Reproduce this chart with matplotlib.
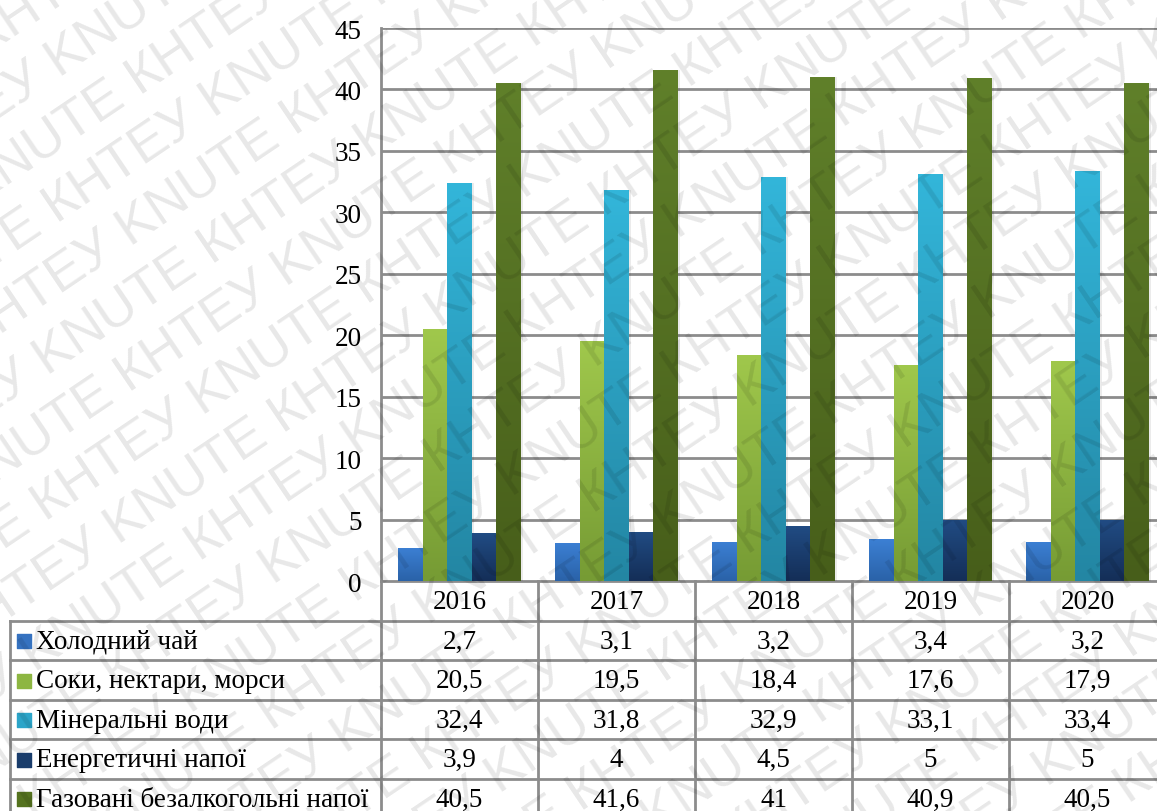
import numpy as np
import matplotlib
matplotlib.use("Agg")
import matplotlib.pyplot as plt
from matplotlib.colors import LinearSegmentedColormap

years = ["2016", "2017", "2018", "2019", "2020"]
series = ["Холодний чай", "Соки, нектари, морси", "Мінеральні води",
          "Енергетичні напої", "Газовані безалкогольні напої"]
cold_tea = [2.7, 3.1, 3.2, 3.4, 3.2]
juices = [20.5, 19.5, 18.4, 17.6, 17.9]
mineral = [32.4, 31.8, 32.9, 33.1, 33.4]
energy = [3.9, 4.0, 4.5, 5.0, 5.0]
soda = [40.5, 41.6, 41.0, 40.9, 40.5]
values = [cold_tea, juices, mineral, energy, soda]

# (top, bottom) shades for the vertical gradient of each series
shades = [("#3c80d4", "#2a62a8"),
          ("#a0c84c", "#769b34"),
          ("#33b6da", "#2386a3"),
          ("#214c84", "#142e57"),
          ("#60802a", "#475e1a")]
legend_colors = ["#3572c0", "#8db642", "#2ca5c9", "#1a3d6c", "#55731f"]

plt.rcParams["font.family"] = ["Liberation Serif", "DejaVu Serif"]
FS = 19.5
W, H = 1157, 812
fig = plt.figure(figsize=(W / 100, H / 100), dpi=100)

# column pixel geometry: left label column then 157 px per year
x0, col = 381, 157
ax_bottom, ax_top = 582, 29
ax = fig.add_axes([x0 / W, (H - ax_bottom) / H, 5 * col / W, (ax_bottom - ax_top) / H])
ax.set_ylim(0, 45)
ax.set_yticks(range(0, 46, 5))
ax.set_xticks([])
ax.tick_params(axis="y", length=0, labelsize=FS, pad=14)
ax.yaxis.grid(True, color="#8c8c8c", linewidth=2)
ax.set_axisbelow(True)
for s in ["top", "right", "bottom"]:
    ax.spines[s].set_visible(False)
ax.spines["left"].set_color("#8c8c8c")
ax.spines["left"].set_linewidth(2)

bw = 0.156
x = np.arange(len(years)) + 0.5
grad = np.linspace(1, 0, 256).reshape(-1, 1)
for k, (vals, (top, bot)) in enumerate(zip(values, shades)):
    cmap = LinearSegmentedColormap.from_list(f"s{k}", [bot, top])
    offs = (k - 2) * bw
    bars = ax.bar(x + offs, vals, width=bw, color="none", edgecolor="none", zorder=2)
    for b in bars:
        bx, by = b.get_x(), b.get_height()
        # faint shadow on the right side
        ax.bar(bx + bw / 2 + 0.012, by, width=bw, color="#000000", alpha=0.08,
               zorder=1.5, linewidth=0)
        im = ax.imshow(grad, cmap=cmap, aspect="auto", zorder=2,
                       extent=[bx, bx + bw, 0, by], vmin=0, vmax=1)
        im.set_clip_path(b)
ax.set_xlim(0, 5)
ax.set_ylim(0, 45)

# data table under the bars
tax = fig.add_axes([0, 0, (x0 + 5 * col) / W, (H - ax_bottom) / H])
tax.set_xlim(-x0 / col, 5)
tax.set_ylim(H - ax_bottom, 0)
tax.axis("off")
lc, lw = "#8c8c8c", 2
rh = 39.5
left = -(x0 - 10) / col
for r in range(1, 7):
    tax.plot([left, 5], [r * rh, r * rh], color=lc, lw=lw, clip_on=False)
tax.plot([0, 5], [0, 0], color=lc, lw=lw)
tax.plot([left, left], [rh, 7 * rh], color=lc, lw=lw, clip_on=False)
for c in range(6):
    tax.plot([c, c], [0, 7 * rh], color=lc, lw=lw, clip_on=False)

for i, yr in enumerate(years):
    tax.text(i + 0.5, rh / 2 + 1, yr, ha="center", va="center", fontsize=FS)
for r, (name, vals, c) in enumerate(zip(series, values, legend_colors)):
    yc = (r + 1.5) * rh + 1
    tax.scatter([left + 14 / col], [yc], marker="s", s=95, color=c, zorder=3)
    tax.text(left + 26 / col, yc, name, ha="left", va="center", fontsize=FS)
    for i, v in enumerate(vals):
        txt = f"{v:g}".replace(".", ",")
        tax.text(i + 0.5, yc, txt, ha="center", va="center", fontsize=FS)

# diagonal watermark: one long line of text per row
rot, wm_fs = 34, 39
word = "КНТЕУ KNUTE "
renderer = fig.canvas.get_renderer()


def text_width(s):
    t = fig.text(0, 0, s, fontsize=wm_fs, family="Liberation Sans")
    w = t.get_window_extent(renderer).width
    t.remove()
    return w


period = (text_width(word * 11 + "K") - text_width(word + "K")) / 10
ang = np.deg2rad(rot)
u = np.array([np.cos(ang), np.sin(ang)])
v = np.array([-np.sin(ang), np.cos(ang)])
start = np.array([128.0, H - 393.0])
row_gap, row_shift = 60, 141
for b in range(-16, 17):
    p = start + b * row_gap * v + ((b * row_shift) % period - 6 * period) * u
    fig.text(p[0] / W, p[1] / H, word * 15, rotation=rot, fontsize=wm_fs,
             family="Liberation Sans", color="black", alpha=0.095,
             ha="left", va="baseline", rotation_mode="anchor", zorder=10)

fig.savefig("out.png", dpi=100)
